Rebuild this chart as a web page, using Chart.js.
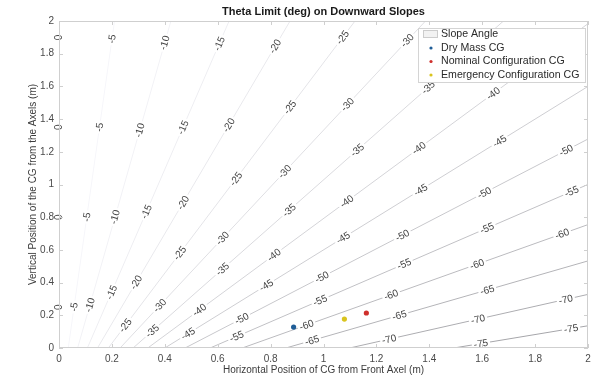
<!DOCTYPE html>
<html>
<head>
<meta charset="utf-8">
<script src="https://cdn.jsdelivr.net/npm/chart.js@4.4.1/dist/chart.umd.min.js"></script>
<style>
  html, body { margin: 0; padding: 0; background: #fff; }
  #wrap { width: 599px; height: 384px; }
</style>
</head>
<body>
<div id="wrap"><canvas id="slopeChart" width="599" height="384"></canvas></div>
<script>
const FONT = "'Liberation Sans', Arial, sans-serif";

// contour levels (deg) and where the contour lines meet: (0, -pivotOffset)
const levels = [0, -5, -10, -15, -20, -25, -30, -35, -40, -45, -50, -55, -60, -65, -70, -75];
const pivotOffset = 0.4;

// CG points
const dryMass = [{ x: 0.887, y: 0.128 }];
const nominal = [{ x: 1.162, y: 0.214 }];
const emergency = [{ x: 1.079, y: 0.177 }];

// contour label spots: [level, x, y]
const labelSpots = [
  [0, 0, 1.90], [0, 0, 1.35], [0, 0, 0.80], [0, 0, 0.25],
  [-5, 0.204, 1.89], [-5, 0.158, 1.35], [-5, 0.109, 0.80], [-5, 0.060, 0.25],
  [-10, 0.404, 1.865], [-10, 0.309, 1.33], [-10, 0.215, 0.80], [-10, 0.125, 0.26],
  [-15, 0.608, 1.86], [-15, 0.468, 1.35], [-15, 0.336, 0.83], [-15, 0.200, 0.34],
  [-20, 0.823, 1.84], [-20, 0.645, 1.36], [-20, 0.468, 0.89], [-20, 0.294, 0.40],
  [-25, 1.072, 1.90], [-25, 0.875, 1.47], [-25, 0.664, 1.04], [-25, 0.457, 0.58], [-25, 0.249, 0.14],
  [-30, 1.317, 1.88], [-30, 1.091, 1.49], [-30, 0.853, 1.08], [-30, 0.619, 0.67], [-30, 0.381, 0.26],
  [-35, 1.392, 1.60], [-35, 1.128, 1.21], [-35, 0.872, 0.84], [-35, 0.619, 0.48], [-35, 0.355, 0.10],
  [-40, 1.645, 1.55], [-40, 1.362, 1.22], [-40, 1.091, 0.89], [-40, 0.808, 0.58], [-40, 0.532, 0.23],
  [-45, 1.664, 1.27], [-45, 1.362, 0.98], [-45, 1.072, 0.68], [-45, 0.785, 0.38], [-45, 0.487, 0.09],
  [-50, 1.917, 1.21], [-50, 1.608, 0.95], [-50, 1.298, 0.69], [-50, 0.992, 0.44], [-50, 0.691, 0.18],
  [-55, 1.940, 0.95], [-55, 1.619, 0.73], [-55, 1.306, 0.51], [-55, 0.985, 0.30], [-55, 0.672, 0.07],
  [-60, 1.902, 0.70], [-60, 1.581, 0.51], [-60, 1.257, 0.32], [-60, 0.936, 0.14],
  [-65, 1.619, 0.355], [-65, 1.287, 0.20], [-65, 0.958, 0.04],
  [-70, 1.917, 0.29], [-70, 1.585, 0.17], [-70, 1.249, 0.05],
  [-75, 1.936, 0.12], [-75, 1.596, 0.02]
];

const title = 'Theta Limit (deg) on Downward Slopes';
const xTitle = 'Horizontal Position of CG from Front Axel (m)';
const yTitle = 'Vertical Position of the CG from the Axels (m)';
const legendNames = ['Slope Angle', 'Dry Mass CG', 'Nominal Configuration CG', 'Emergency Configuration CG'];

// straight contour line of one level, clipped to the 2 x 2 box
function lineEnds(level) {
  const t = Math.tan(-level * Math.PI / 180);
  const start = { x: t * pivotOffset, y: 0 };
  let end = { x: t * (2 + pivotOffset), y: 2 };
  if (end.x > 2) end = { x: 2, y: 2 / t - pivotOffset };
  return [start, end];
}

function shade(level) {
  const f = -level / 75;
  const g = Math.round(248 - 82 * Math.pow(f, 1.3));
  return `rgb(${g},${g},${Math.min(255, g + 4)})`;
}

const pointSets = [
  { label: legendNames[1], data: dryMass, color: '#1f5d97' },
  { label: legendNames[2], data: nominal, color: '#cf2f2c' },
  { label: legendNames[3], data: emergency, color: '#d9c41e' }
].map(p => ({
  label: p.label, data: p.data, showLine: false,
  backgroundColor: p.color, borderColor: p.color,
  pointRadius: 2.6, pointBorderWidth: 0
}));

const contourSets = levels.map(l => ({
  label: legendNames[0], data: lineEnds(l), showLine: true,
  borderColor: shade(l), borderWidth: 1, pointRadius: 0, fill: false
}));

function drawLabels(chart) {
  const ctx = chart.ctx, xs = chart.scales.x, ys = chart.scales.y;
  ctx.save();
  ctx.font = `10px ${FONT}`;
  ctx.textAlign = 'center';
  ctx.textBaseline = 'middle';
  labelSpots.forEach(([lvl, lx, ly]) => {
    const [a, b] = lineEnds(lvl);
    const ax = xs.getPixelForValue(a.x), ay = ys.getPixelForValue(a.y);
    const bx = xs.getPixelForValue(b.x), by = ys.getPixelForValue(b.y);
    const len = Math.hypot(bx - ax, by - ay);
    const dx = (bx - ax) / len, dy = (by - ay) / len;
    const px = xs.getPixelForValue(lx), py = ys.getPixelForValue(ly);
    const s = (px - ax) * dx + (py - ay) * dy;
    const cx = ax + dx * s, cy = ay + dy * s;
    const txt = String(lvl);
    const w = ctx.measureText(txt).width;
    ctx.save();
    ctx.translate(cx, cy);
    ctx.rotate(Math.atan2(dy, dx));
    ctx.fillStyle = '#fff';
    ctx.fillRect(-w / 2 - 2, -5, w + 4, 10);
    ctx.fillStyle = '#444';
    ctx.fillText(txt, 0, 0.5);
    ctx.restore();
  });
  ctx.restore();
}

const plotExtras = {
  id: 'plotExtras',
  afterDatasetDraw(chart, args) {
    if (args.index === pointSets.length) drawLabels(chart);
  },
  afterDraw(chart) {
    const ctx = chart.ctx, area = chart.chartArea;
    const xs = chart.scales.x, ys = chart.scales.y;
    ctx.save();

    // box and inward ticks
    ctx.strokeStyle = '#cfcfcf';
    ctx.lineWidth = 1;
    ctx.strokeRect(area.left + 0.5, area.top + 0.5, area.right - area.left - 1, area.bottom - area.top - 1);
    ctx.beginPath();
    xs.ticks.forEach(t => {
      const x = Math.round(xs.getPixelForValue(t.value)) + 0.5;
      ctx.moveTo(x, area.bottom); ctx.lineTo(x, area.bottom - 4);
      ctx.moveTo(x, area.top); ctx.lineTo(x, area.top + 4);
    });
    ys.ticks.forEach(t => {
      const y = Math.round(ys.getPixelForValue(t.value)) + 0.5;
      ctx.moveTo(area.left, y); ctx.lineTo(area.left + 4, y);
      ctx.moveTo(area.right, y); ctx.lineTo(area.right - 4, y);
    });
    ctx.stroke();

    // titles
    const midX = (area.left + area.right) / 2;
    ctx.fillStyle = '#1a1a1a';
    ctx.textAlign = 'center';
    ctx.textBaseline = 'middle';
    ctx.font = `bold 11px ${FONT}`;
    ctx.fillText(title, midX, 12);
    ctx.fillStyle = '#3c3c3c';
    ctx.font = `10px ${FONT}`;
    ctx.fillText(xTitle, midX, 370);
    ctx.save();
    ctx.translate(33, (area.top + area.bottom) / 2);
    ctx.rotate(-Math.PI / 2);
    ctx.fillText(yTitle, 0, 0);
    ctx.restore();

    // legend
    const lx = 418, ly = 28, lw = 167, lh = 54;
    ctx.fillStyle = '#fff';
    ctx.fillRect(lx, ly, lw, lh);
    ctx.strokeStyle = '#d4d4d4';
    ctx.strokeRect(lx + 0.5, ly + 0.5, lw, lh);
    const rows = [34, 48, 61.5, 75];
    ctx.textAlign = 'left';
    ctx.font = `10.6px ${FONT}`;
    rows.forEach((ry, i) => {
      if (i === 0) {
        ctx.fillStyle = '#f2f2f2';
        ctx.fillRect(423, ry - 4, 15, 8);
        ctx.strokeStyle = '#cccccc';
        ctx.strokeRect(423.5, ry - 3.5, 14, 7);
      } else {
        ctx.fillStyle = pointSets[i - 1].backgroundColor;
        ctx.beginPath();
        ctx.arc(431, ry, 1.6, 0, Math.PI * 2);
        ctx.fill();
      }
      ctx.fillStyle = '#2a2a2a';
      ctx.fillText(legendNames[i], 441, ry);
    });
    ctx.restore();
  }
};

const tickFmt = v => String(+Number(v).toFixed(1));

new Chart(document.getElementById('slopeChart'), {
  type: 'scatter',
  data: { datasets: [...pointSets, ...contourSets] },
  options: {
    responsive: false,
    animation: false,
    layout: { padding: { top: 21, right: 11, left: 0, bottom: 0 } },
    plugins: { legend: { display: false }, tooltip: { enabled: false }, title: { display: false } },
    scales: {
      x: {
        type: 'linear', min: 0, max: 2,
        grid: { display: false, drawTicks: false },
        border: { display: false },
        ticks: { stepSize: 0.2, padding: 5, autoSkip: false, maxRotation: 0, color: '#4a4a4a',
                 font: { size: 10, family: FONT }, callback: tickFmt },
        afterFit: s => { s.height = 36; }
      },
      y: {
        type: 'linear', min: 0, max: 2,
        grid: { display: false, drawTicks: false },
        border: { display: false },
        ticks: { stepSize: 0.2, padding: 5, autoSkip: false, color: '#4a4a4a',
                 font: { size: 10, family: FONT }, callback: tickFmt },
        afterFit: s => { s.width = 59; }
      }
    }
  },
  plugins: [plotExtras]
});
</script>
</body>
</html>
